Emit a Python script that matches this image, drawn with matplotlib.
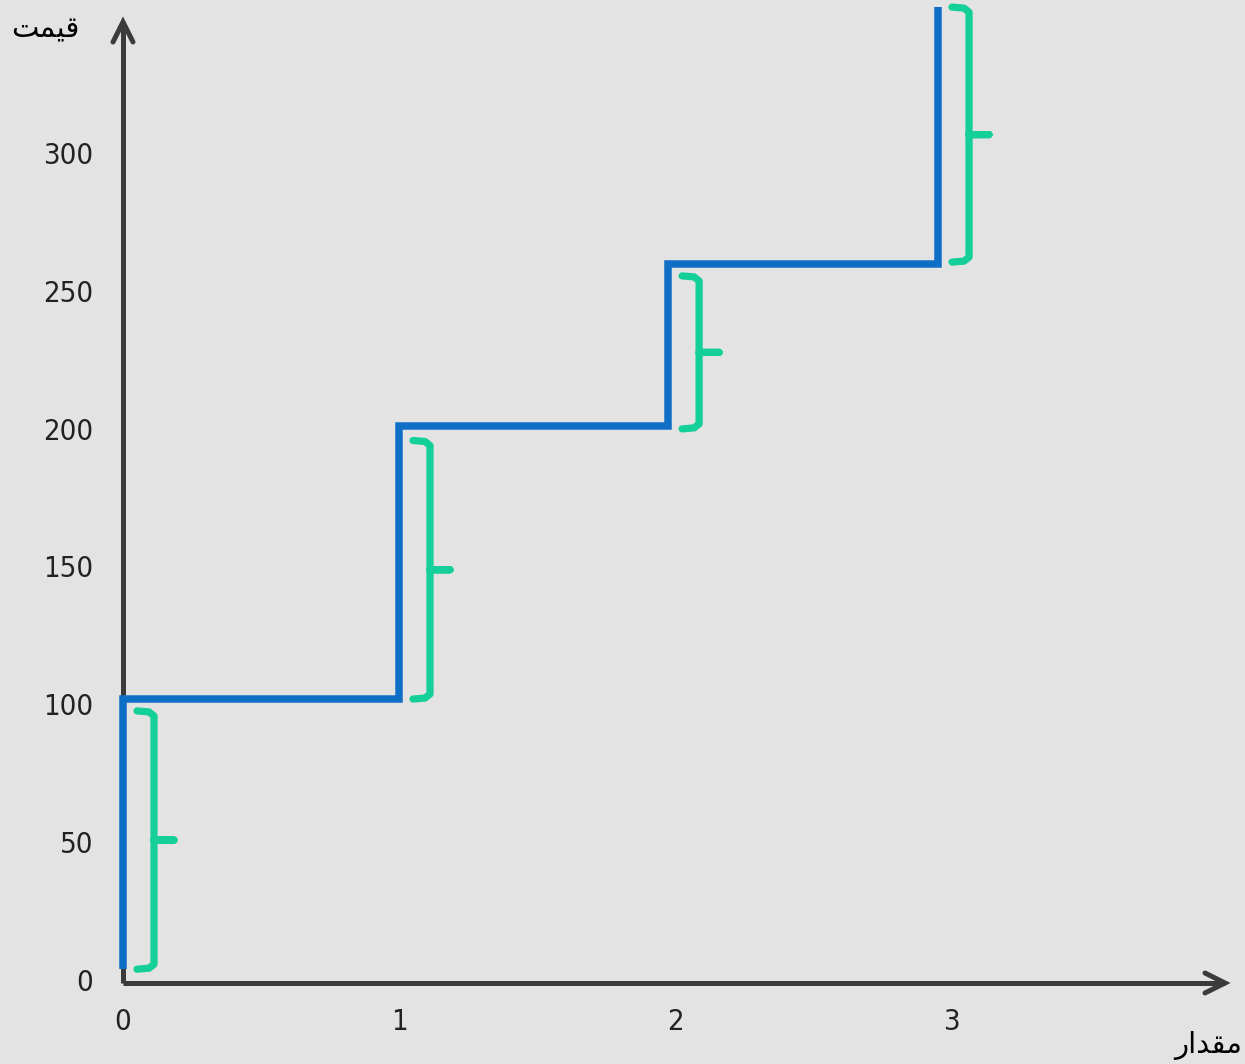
import matplotlib
matplotlib.use("Agg")
import matplotlib.pyplot as plt
import numpy as np

# ---- data ----
step_x = [0.0, 1.0, 1.975, 2.953]          # quantity at each jump
step_levels = [5, 103, 202, 261, 354]      # price levels (start, after each jump)
brace_bottom = [5, 103, 201, 261.5]
brace_top = [98.7, 196.8, 256.5, 354]
x_ticks = [0, 1, 2, 3]
x_tick_labels = ["0", "1", "2", "3"]
y_ticks = [0, 50, 100, 150, 200, 250, 300]
y_tick_labels = ["0", "50", "100", "150", "200", "250", "300"]
y_label = "\uFE96\uFEE4\uFBFF\uFED7"       # قیمت (visual order, presentation forms)
x_label = "\uFEAD\uFE8D\uFEAA\uFED8\uFEE3"  # مقدار

# ---- style ----
BG = "#e3e3e3"
BLUE = "#0f6fc6"
GREEN = "#14cf98"
AXC = "#3b3b3b"
TXT = "#222222"

W, H = 1245, 1064
fig = plt.figure(figsize=(W / 100, H / 100), dpi=100, facecolor=BG)
ax = fig.add_axes([0, 0, 1, 1], facecolor=BG)

px_x = 276.0
px_y = 2.7567
x0p, y0p = 123.0, 983.0
ax.set_xlim(-x0p / px_x, (W - x0p) / px_x)
ax.set_ylim(-(H - y0p) / px_y, y0p / px_y)
ax.axis("off")

# axes lines with chevron arrow heads
x_end = (1225 - x0p) / px_x
y_end = (983 - 22) / px_y
ax.plot([0, x_end], [0, 0], color=AXC, lw=3.6, solid_capstyle="butt", zorder=2)
ax.plot([0, 0], [0, y_end], color=AXC, lw=3.6, solid_capstyle="butt", zorder=2)
ax.plot([x_end - 20 / px_x, x_end, x_end - 20 / px_x],
        [10 / px_y, 0, -10 / px_y], color=AXC, lw=3.6,
        solid_capstyle="round", solid_joinstyle="miter", zorder=2)
ax.plot([-10 / px_x, 0, 10 / px_x],
        [y_end - 20 / px_y, y_end, y_end - 20 / px_y], color=AXC, lw=3.6,
        solid_capstyle="round", solid_joinstyle="miter", zorder=2)

# step line
sx, sy = [step_x[0]], [step_levels[0]]
for i, xv in enumerate(step_x):
    sx.append(xv); sy.append(step_levels[i + 1])
    if i + 1 < len(step_x):
        sx.append(step_x[i + 1]); sy.append(step_levels[i + 1])
ax.plot(sx, sy, color=BLUE, lw=5.4, solid_joinstyle="miter",
        solid_capstyle="butt", zorder=3)

# braces
for xv, b, t in zip(step_x, brace_bottom, brace_top):
    xl = xv + 14 / px_x
    xv_ = xv + 31 / px_x
    xt = xv + 51 / px_x
    r = 5 / px_x
    ry = 5 / px_y
    mid = (b + t) / 2
    bx = [xl, xv_ - r, xv_, xv_, xv_, xt, xv_, xv_, xv_, xv_ - r, xl]
    by = [t, t - 0.2 * ry, t - ry, mid, mid, mid, mid, mid, b + ry, b + 0.2 * ry, b]
    ax.plot(bx, by, color=GREEN, lw=5.2, solid_joinstyle="round",
            solid_capstyle="round", zorder=4)

# tick labels
tick_kw = dict(fontsize=21, color=TXT, fontstretch="condensed",
               family=["DejaVu Sans"])
for v, lab in zip(y_ticks, y_tick_labels):
    ax.text((93 - x0p) / px_x, v, lab, ha="right", va="center", **tick_kw)
for v, lab in zip(x_ticks, x_tick_labels):
    ax.text(v, (983 - 1022) / px_y, lab, ha="center", va="center", **tick_kw)

# axis titles
ax.text((45 - x0p) / px_x, (983 - 29) / px_y, y_label, ha="center", va="center",
        fontsize=21, color="black", family=["DejaVu Sans"])
ax.text((1208 - x0p) / px_x, (983 - 1046) / px_y, x_label, ha="center", va="center",
        fontsize=21, color="black", family=["DejaVu Sans"])

fig.savefig("out.png", dpi=100, facecolor=BG)
